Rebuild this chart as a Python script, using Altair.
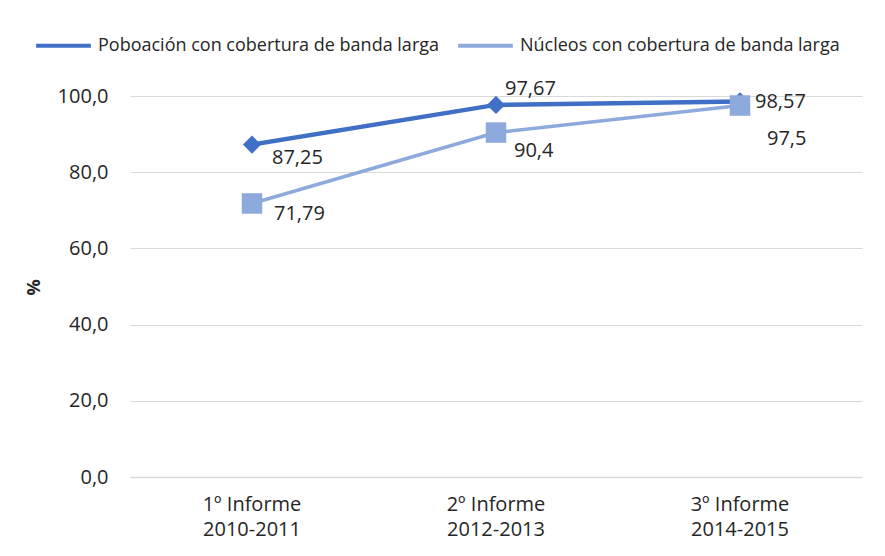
import altair as alt
import pandas as pd

categories = ["1º Informe\n2010-2011", "2º Informe\n2012-2013", "3º Informe\n2014-2015"]
series_names = ["Poboación con cobertura de banda larga", "Núcleos con cobertura de banda larga"]
poboacion = [87.25, 97.67, 98.57]
nucleos = [71.79, 90.4, 97.5]

rows = []
for i, c in enumerate(categories):
    rows.append({"cat": c, "serie": series_names[0], "value": poboacion[i], "idx": i})
    rows.append({"cat": c, "serie": series_names[1], "value": nucleos[i], "idx": i})
df = pd.DataFrame(rows)

DARK = "#3F70C6"
LIGHT = "#8EAADC"
FONT = "Open Sans"
TXT = "#262626"

xenc = alt.X("cat:N", sort=categories, title=None,
             scale=alt.Scale(paddingInner=0, paddingOuter=0, type="band"),
             axis=alt.Axis(labelAngle=0, labelExpr="split(datum.label, '\\n')",
                           labelFontSize=20, labelColor=TXT, labelFont=FONT,
                           labelLineHeight=25, labelPadding=17, ticks=False,
                           domainColor="#D9D9D9", domainWidth=1.5, grid=False, labelBaseline="top"))
yenc = alt.Y("value:Q", title="%",
             scale=alt.Scale(domain=[0, 100], nice=False, zero=True),
             axis=alt.Axis(values=[0, 20, 40, 60, 80, 100],
                           labelExpr="replace(format(datum.value, '.1f'), '.', ',')",
                           labelFontSize=20, labelColor=TXT, labelFont=FONT,
                           labelPadding=22, ticks=False, domain=False,
                           gridColor="#D9D9D9", gridWidth=1,
                           titleFont=FONT, titleFontSize=18, titleFontWeight="bold",
                           titleColor=TXT, titleX=-87, titleY=191, titleAngle=-90))

color = alt.Color("serie:N", scale=alt.Scale(domain=series_names, range=[DARK, LIGHT]),
                  legend=alt.Legend(title=None, orient="none", direction="horizontal",
                                    legendX=-96, legendY=-80, symbolType="stroke",
                                    symbolSize=3000, symbolStrokeWidth=4,
                                    labelFont=FONT, labelFontSize=18, labelColor=TXT,
                                    labelOffset=5, columnPadding=10, labelLimit=0))

base = alt.Chart(df).encode(x=xenc, y=yenc)

dark = base.transform_filter(alt.datum.serie == series_names[0])
light = base.transform_filter(alt.datum.serie == series_names[1])

dark_line = dark.mark_line(strokeWidth=4.5).encode(color=color)
dark_pts = dark.mark_point(shape="diamond", size=330, filled=True, opacity=1, color=DARK)
light_line = light.mark_line(strokeWidth=3.5).encode(color=color)
light_pts = light.mark_point(shape="square", size=420, filled=True, opacity=1, color=LIGHT)

def lab(src, test, dx, dy):
    return src.transform_filter(test).transform_calculate(
        lbl="replace(toString(datum.value), '.', ',')"
    ).mark_text(align="left", baseline="middle", dx=dx, dy=dy, fontSize=20,
                font=FONT, color=TXT).encode(text="lbl:N")

labels = [
    lab(dark, alt.datum.idx == 0, 20, 13),
    lab(dark, alt.datum.idx == 1, 9, -16),
    lab(dark, alt.datum.idx == 2, 15, 1),
    lab(light, alt.datum.idx == 0, 22, 11),
    lab(light, alt.datum.idx == 1, 18, 18),
    lab(light, alt.datum.idx == 2, 27, 33),
]

chart = alt.layer(dark_line, dark_pts, light_line, light_pts, *labels).properties(
    width=732, height=381,
    autosize=alt.AutoSizeParams(type="none"),
    padding={"left": 122, "top": 88, "right": 10, "bottom": 70},
).configure(background="white").configure_view(stroke=None)

chart.save("out.html", embed_options={"renderer": "svg", "actions": False})
